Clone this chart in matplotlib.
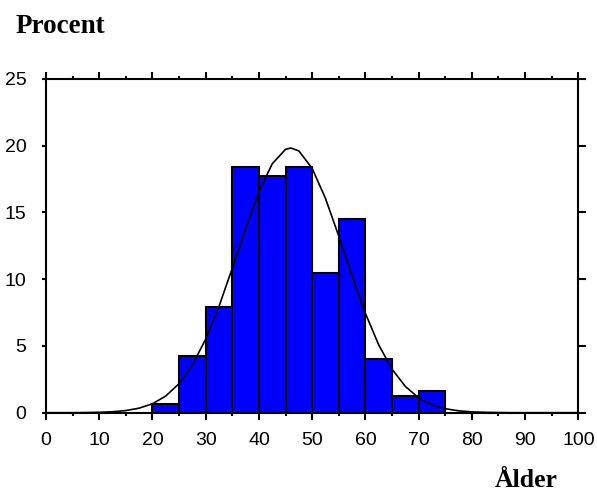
import matplotlib.pyplot as plt
from matplotlib.ticker import MultipleLocator

# Age histogram (percent per 5-year class) with fitted normal curve
bin_starts = [20, 25, 30, 35, 40, 45, 50, 55, 60, 65, 70]
percent = [0.65, 4.25, 7.9, 18.4, 17.75, 18.4, 10.5, 14.5, 4.0, 1.25, 1.65]

curve_x = [0, 2.5, 5, 7.5, 10, 12.5, 15, 17.5, 20, 22.5, 25, 27.5, 30, 32.5, 35,
           37.5, 40, 42.5, 45, 46, 47.5, 50, 52.5, 55, 57.5, 60, 62.5, 65, 67.5,
           70, 72.5, 75, 77.5, 80, 82.5, 85, 87.5, 90, 95, 100]
curve_y = [0.0, 0.0, 0.0, 0.01, 0.03, 0.07, 0.16, 0.34, 0.67, 1.25, 2.18, 3.58,
           5.51, 7.97, 10.83, 13.82, 16.56, 18.65, 19.73, 19.83, 19.61, 18.30,
           16.05, 13.23, 10.24, 7.44, 5.08, 3.26, 1.97, 1.11, 0.59, 0.30, 0.14,
           0.06, 0.03, 0.01, 0.0, 0.0, 0.0, 0.0]

plt.rcParams['font.family'] = ['Liberation Sans', 'DejaVu Sans']

fig = plt.figure(figsize=(5.97, 4.98), dpi=100)
ax = fig.add_axes([0.0771, 0.1713, 0.8916, 0.6701])

ax.bar(bin_starts, percent, width=5, align='edge', color='#0000ff',
       edgecolor='black', linewidth=1.5, zorder=2)
ax.plot(curve_x, curve_y, color='black', linewidth=1.2, zorder=3)

ax.set_xlim(0, 100)
ax.set_ylim(0, 25)
ax.xaxis.set_major_locator(MultipleLocator(10))
ax.xaxis.set_minor_locator(MultipleLocator(5))
ax.yaxis.set_major_locator(MultipleLocator(5))

for s in ax.spines.values():
    s.set_linewidth(1.5)

ax.tick_params(axis='x', which='major', top=True, direction='out',
               length=5, width=1.5, labelsize=14, pad=9)
ax.tick_params(axis='x', which='minor', top=True, direction='out',
               length=2.5, width=1.5)
ax.tick_params(axis='y', which='major', direction='out', length=3,
               width=1.5, labelsize=14, pad=11)

# right-hand ticks are longer than the left ones
ax2 = ax.twinx()
ax2.set_ylim(0, 25)
ax2.yaxis.set_major_locator(MultipleLocator(5))
ax2.tick_params(axis='y', direction='out', length=6, width=1.5, labelright=False)
for s in ax2.spines.values():
    s.set_visible(False)

fig.text(16 / 597, 1 - 33 / 498, 'Procent', family='Liberation Serif',
         fontweight='bold', fontsize=19.5, ha='left', va='baseline')
fig.text(558 / 597, 1 - 487 / 498, 'Ålder', family='Liberation Serif',
         fontweight='bold', fontsize=18.5, ha='right', va='baseline')

fig.savefig('out.png', dpi=100)
